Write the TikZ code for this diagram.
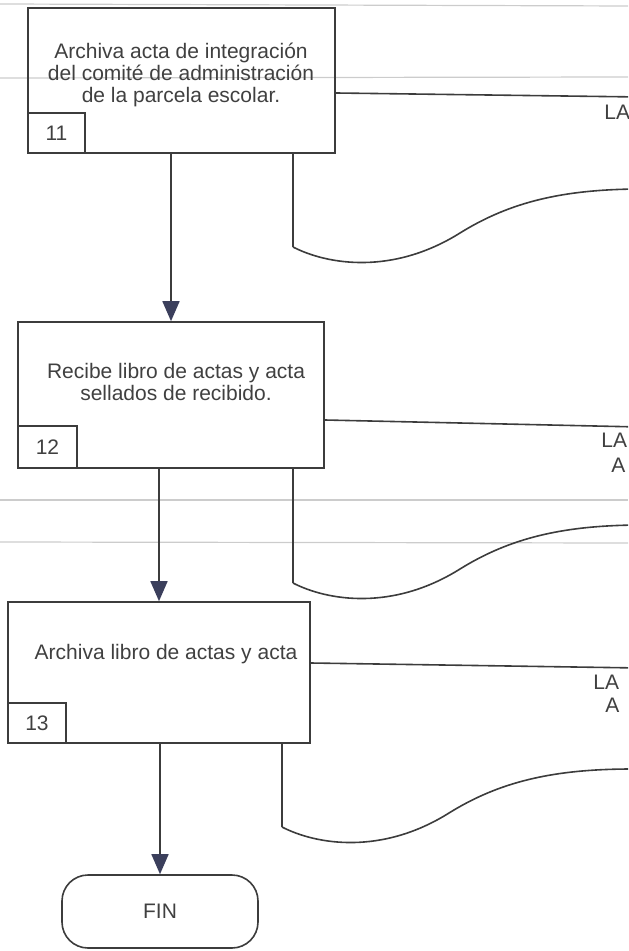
\documentclass[tikz,border=0pt]{standalone}
\usepackage{fontspec}
\setmainfont{Liberation Sans}
\usepackage{xcolor}
\usetikzlibrary{arrows.meta,positioning}

\definecolor{linea}{HTML}{3C3C3C}
\definecolor{flecha}{HTML}{3B3F5C}
\definecolor{texto}{HTML}{404040}
\definecolor{renglon}{HTML}{CCCCCC}

\begin{document}
\begin{tikzpicture}[x=0.5pt,y=-0.5pt,font=\fontsize{10.5}{11}\selectfont,
  tarea/.style={draw=linea,line width=0.8pt,inner sep=0pt},
  numero/.style={draw=linea,line width=0.8pt,inner sep=0pt,anchor=south west,text=texto},
  rotulo/.style={align=center,text=texto,inner sep=0pt},
  fin/.style={draw=linea,line width=0.8pt,rounded corners=13pt,minimum width=98pt,minimum height=36.5pt,text=texto},
  flujo/.style={draw=linea,line width=0.8pt,-{Triangle[length=10pt,width=8.5pt,color=flecha]}},
  trazo/.style={draw=linea,line width=0.8pt}]
  \path[use as bounding box] (0,0) rectangle (628,951);
  \clip (0,0) rectangle (628,951);

  % renglones del papel escaneado
  \draw[renglon,line width=0.6pt] (0,4) -- (628,6);
  \draw[renglon,line width=0.6pt] (0,78) -- (628,77);
  \draw[renglon,line width=0.6pt] (0,500) -- (628,500);
  \draw[renglon,line width=0.6pt] (0,542) -- (628,543);

  % actividades
  \node[tarea,minimum width=153.5pt,minimum height=72.5pt] (b11) at (181.5,80.5) {};
  \node[numero,minimum width=28.5pt,minimum height=20pt] (n11) at (b11.south west) {11};
  \node[rotulo] (t11) at (181,75) {Archiva acta de integración\\del comité de administración\\de la parcela escolar.};

  \node[tarea,minimum width=153pt,minimum height=73pt] (b12) at (171,395) {};
  \node[numero,minimum width=29.5pt,minimum height=21pt] (n12) at (b12.south west) {12};
  \node[rotulo] (t12) at (176,382) {Recibe libro de actas y acta\\sellados de recibido.};

  \node[tarea,minimum width=151pt,minimum height=70.5pt] (b13) at (159,672.5) {};
  \node[numero,minimum width=29pt,minimum height=20pt] (n13) at (b13.south west) {13};
  \node[rotulo] (t13) at (166,654.5) {Archiva libro de actas y acta};

  \node[fin] (fin) at (160,911.5) {FIN};

  \draw[flujo] (b12.north |- b11.south) -- (b12.north);
  \draw[flujo] (b13.north |- b12.south) -- (b13.north);
  \draw[flujo] (fin.north |- b13.south) -- (fin.north);

  % documentos (cortados en el borde)
  \draw[trazo] ([yshift=-6.25pt]b11.east) -- (640,97);
  \draw[trazo] ([yshift=-12.5pt]b12.east) -- (640,427);
  \draw[trazo] ([yshift=4.75pt]b13.east) -- (640,668);
  \foreach \b/\x/\y in {b11/293/247,b12/293/583,b13/282/827}{
    \coordinate (w\b) at (\x,\y);
    \draw[trazo] (w\b |- \b.south) -- (w\b);
    \draw[trazo,shift={(\x,\y)}] (0,0) .. controls (35,18) and (100,28) .. (167,-14)
      .. controls (217,-45) and (270,-58) .. (350,-58);
  }

  \node[rotulo,anchor=west] (la11) at (604,112) {LA};
  \node[rotulo,anchor=west] (la12) at (601,440) {LA};
  \node[rotulo,anchor=west] (a12) at (611,465) {A};
  \node[rotulo,anchor=west] (la13) at (593,682) {LA};
  \node[rotulo,anchor=west] (a13) at (605,705) {A};
\end{tikzpicture}
\end{document}
